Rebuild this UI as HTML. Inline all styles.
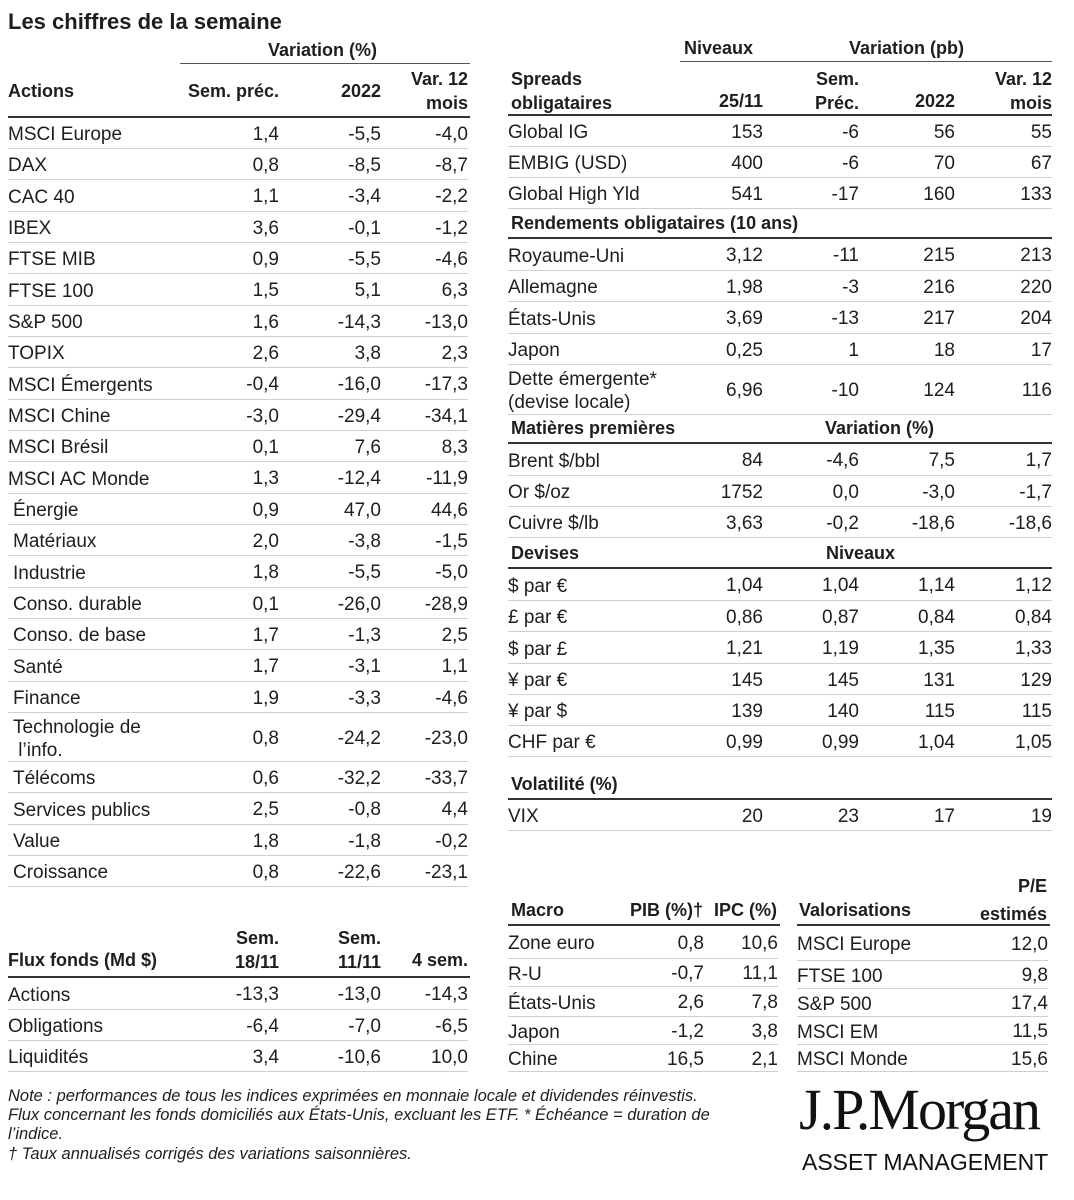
<!DOCTYPE html>
<html><head><meta charset="utf-8"><style>
body{margin:0;width:1074px;height:1200px;background:#fff;position:relative;overflow:hidden;font-family:"Liberation Sans",sans-serif;color:#1e1e1e;font-size:19px}
.a{position:absolute;white-space:nowrap}
.row{position:absolute;display:flex;align-items:center;border-bottom:1px solid #cfcfcf;box-sizing:border-box;padding-top:3px}
.row .l{flex:1;min-width:0;line-height:23px;white-space:nowrap}
.row .c{text-align:right;line-height:22px;flex-shrink:0}
.L{left:8px;width:460px}.L .c1{width:120px}.L .c2{width:102px}.L .c3{width:87px}
.R{left:508px;width:544px}.R .c1{width:110px}.R .c2{width:96px}.R .c3{width:96px}.R .c4{width:97px}
.M{left:508px;width:270px}.M .c1{width:80px}.M .c2{width:74px}
.V{left:797px;width:251px}.V .c1{width:80px}
.b{font-weight:bold;font-size:18px}
.hl{position:absolute;height:2px;background:#333}
.tl{position:absolute;height:1px;background:#555}
.in{padding-left:5px}
.note{position:absolute;left:8px;font-style:italic;font-size:16.5px;white-space:nowrap}
</style></head><body>
<div class="a" style="left:8px;top:9px;font-size:22px;font-weight:bold">Les chiffres de la semaine</div>

<div class="a b" style="left:268px;top:40px">Variation (%)</div>
<div class="tl" style="left:180px;top:63px;width:290px"></div>
<div class="a b" style="left:8px;top:81px">Actions</div>
<div class="a b" style="right:795px;top:81px">Sem. préc.</div>
<div class="a b" style="right:693px;top:81px">2022</div>
<div class="a b" style="right:606px;top:67px;text-align:right;line-height:24px">Var. 12<br>mois</div>
<div class="hl" style="left:8px;top:116px;width:462px"></div>

<div class="row L" style="top:118px;height:31px"><span class="l">MSCI Europe</span><span class="c c1">1,4</span><span class="c c2">-5,5</span><span class="c c3">-4,0</span></div>
<div class="row L" style="top:149px;height:31px"><span class="l">DAX</span><span class="c c1">0,8</span><span class="c c2">-8,5</span><span class="c c3">-8,7</span></div>
<div class="row L" style="top:180px;height:32px"><span class="l">CAC 40</span><span class="c c1">1,1</span><span class="c c2">-3,4</span><span class="c c3">-2,2</span></div>
<div class="row L" style="top:212px;height:31px"><span class="l">IBEX</span><span class="c c1">3,6</span><span class="c c2">-0,1</span><span class="c c3">-1,2</span></div>
<div class="row L" style="top:243px;height:31px"><span class="l">FTSE MIB</span><span class="c c1">0,9</span><span class="c c2">-5,5</span><span class="c c3">-4,6</span></div>
<div class="row L" style="top:274px;height:32px"><span class="l">FTSE 100</span><span class="c c1">1,5</span><span class="c c2">5,1</span><span class="c c3">6,3</span></div>
<div class="row L" style="top:306px;height:31px"><span class="l">S&amp;P 500</span><span class="c c1">1,6</span><span class="c c2">-14,3</span><span class="c c3">-13,0</span></div>
<div class="row L" style="top:337px;height:31px"><span class="l">TOPIX</span><span class="c c1">2,6</span><span class="c c2">3,8</span><span class="c c3">2,3</span></div>
<div class="row L" style="top:368px;height:32px"><span class="l">MSCI Émergents</span><span class="c c1">-0,4</span><span class="c c2">-16,0</span><span class="c c3">-17,3</span></div>
<div class="row L" style="top:400px;height:31px"><span class="l">MSCI Chine</span><span class="c c1">-3,0</span><span class="c c2">-29,4</span><span class="c c3">-34,1</span></div>
<div class="row L" style="top:431px;height:31px"><span class="l">MSCI Brésil</span><span class="c c1">0,1</span><span class="c c2">7,6</span><span class="c c3">8,3</span></div>
<div class="row L" style="top:462px;height:32px"><span class="l">MSCI AC Monde</span><span class="c c1">1,3</span><span class="c c2">-12,4</span><span class="c c3">-11,9</span></div>
<div class="row L" style="top:494px;height:31px"><span class="l in">Énergie</span><span class="c c1">0,9</span><span class="c c2">47,0</span><span class="c c3">44,6</span></div>
<div class="row L" style="top:525px;height:31px"><span class="l in">Matériaux</span><span class="c c1">2,0</span><span class="c c2">-3,8</span><span class="c c3">-1,5</span></div>
<div class="row L" style="top:556px;height:32px"><span class="l in">Industrie</span><span class="c c1">1,8</span><span class="c c2">-5,5</span><span class="c c3">-5,0</span></div>
<div class="row L" style="top:588px;height:31px"><span class="l in">Conso. durable</span><span class="c c1">0,1</span><span class="c c2">-26,0</span><span class="c c3">-28,9</span></div>
<div class="row L" style="top:619px;height:31px"><span class="l in">Conso. de base</span><span class="c c1">1,7</span><span class="c c2">-1,3</span><span class="c c3">2,5</span></div>
<div class="row L" style="top:650px;height:32px"><span class="l in">Santé</span><span class="c c1">1,7</span><span class="c c2">-3,1</span><span class="c c3">1,1</span></div>
<div class="row L" style="top:682px;height:31px"><span class="l in">Finance</span><span class="c c1">1,9</span><span class="c c2">-3,3</span><span class="c c3">-4,6</span></div>
<div class="row L" style="top:713px;height:49px"><span class="l in">Technologie de<br>&nbsp;l’info.</span><span class="c c1">0,8</span><span class="c c2">-24,2</span><span class="c c3">-23,0</span></div>
<div class="row L" style="top:762px;height:31px"><span class="l in">Télécoms</span><span class="c c1">0,6</span><span class="c c2">-32,2</span><span class="c c3">-33,7</span></div>
<div class="row L" style="top:793px;height:32px"><span class="l in">Services publics</span><span class="c c1">2,5</span><span class="c c2">-0,8</span><span class="c c3">4,4</span></div>
<div class="row L" style="top:825px;height:31px"><span class="l in">Value</span><span class="c c1">1,8</span><span class="c c2">-1,8</span><span class="c c3">-0,2</span></div>
<div class="row L" style="top:856px;height:31px"><span class="l in">Croissance</span><span class="c c1">0,8</span><span class="c c2">-22,6</span><span class="c c3">-23,1</span></div>

<div class="a b" style="left:684px;top:38px">Niveaux</div>
<div class="a b" style="left:849px;top:38px">Variation (pb)</div>
<div class="tl" style="left:680px;top:61px;width:372px"></div>
<div class="a b" style="left:511px;top:67px;line-height:24px">Spreads<br>obligataires</div>
<div class="a b" style="right:311px;top:91px">25/11</div>
<div class="a b" style="right:215px;top:67px;text-align:right;line-height:24px">Sem.<br>Préc.</div>
<div class="a b" style="right:119px;top:91px">2022</div>
<div class="a b" style="right:22px;top:67px;text-align:right;line-height:24px">Var. 12<br>mois</div>
<div class="hl" style="left:508px;top:114px;width:544px"></div>
<div class="row R" style="top:116px;height:31px"><span class="l">Global IG</span><span class="c c1">153</span><span class="c c2">-6</span><span class="c c3">56</span><span class="c c4">55</span></div>
<div class="row R" style="top:147px;height:31px"><span class="l">EMBIG (USD)</span><span class="c c1">400</span><span class="c c2">-6</span><span class="c c3">70</span><span class="c c4">67</span></div>
<div class="row R" style="top:178px;height:31px"><span class="l">Global High Yld</span><span class="c c1">541</span><span class="c c2">-17</span><span class="c c3">160</span><span class="c c4">133</span></div>
<div class="a b" style="left:511px;top:213px">Rendements obligataires (10 ans)</div>
<div class="hl" style="left:508px;top:237px;width:544px"></div>
<div class="row R" style="top:239px;height:32px"><span class="l">Royaume-Uni</span><span class="c c1">3,12</span><span class="c c2">-11</span><span class="c c3">215</span><span class="c c4">213</span></div>
<div class="row R" style="top:271px;height:31px"><span class="l">Allemagne</span><span class="c c1">1,98</span><span class="c c2">-3</span><span class="c c3">216</span><span class="c c4">220</span></div>
<div class="row R" style="top:302px;height:32px"><span class="l">États-Unis</span><span class="c c1">3,69</span><span class="c c2">-13</span><span class="c c3">217</span><span class="c c4">204</span></div>
<div class="row R" style="top:334px;height:31px"><span class="l">Japon</span><span class="c c1">0,25</span><span class="c c2">1</span><span class="c c3">18</span><span class="c c4">17</span></div>
<div class="row R" style="top:365px;height:50px"><span class="l">Dette émergente*<br>(devise locale)</span><span class="c c1">6,96</span><span class="c c2">-10</span><span class="c c3">124</span><span class="c c4">116</span></div>
<div class="a b" style="left:511px;top:418px">Matières premières</div>
<div class="a b" style="left:825px;top:418px">Variation (%)</div>
<div class="hl" style="left:508px;top:442px;width:544px"></div>
<div class="row R" style="top:444px;height:32px"><span class="l">Brent $/bbl</span><span class="c c1">84</span><span class="c c2">-4,6</span><span class="c c3">7,5</span><span class="c c4">1,7</span></div>
<div class="row R" style="top:476px;height:31px"><span class="l">Or $/oz</span><span class="c c1">1752</span><span class="c c2">0,0</span><span class="c c3">-3,0</span><span class="c c4">-1,7</span></div>
<div class="row R" style="top:507px;height:31px"><span class="l">Cuivre $/lb</span><span class="c c1">3,63</span><span class="c c2">-0,2</span><span class="c c3">-18,6</span><span class="c c4">-18,6</span></div>
<div class="a b" style="left:511px;top:543px">Devises</div>
<div class="a b" style="left:826px;top:543px">Niveaux</div>
<div class="hl" style="left:508px;top:567px;width:544px"></div>
<div class="row R" style="top:569px;height:32px"><span class="l">$ par €</span><span class="c c1">1,04</span><span class="c c2">1,04</span><span class="c c3">1,14</span><span class="c c4">1,12</span></div>
<div class="row R" style="top:601px;height:31px"><span class="l">£ par €</span><span class="c c1">0,86</span><span class="c c2">0,87</span><span class="c c3">0,84</span><span class="c c4">0,84</span></div>
<div class="row R" style="top:632px;height:32px"><span class="l">$ par £</span><span class="c c1">1,21</span><span class="c c2">1,19</span><span class="c c3">1,35</span><span class="c c4">1,33</span></div>
<div class="row R" style="top:664px;height:31px"><span class="l">¥ par €</span><span class="c c1">145</span><span class="c c2">145</span><span class="c c3">131</span><span class="c c4">129</span></div>
<div class="row R" style="top:695px;height:31px"><span class="l">¥ par $</span><span class="c c1">139</span><span class="c c2">140</span><span class="c c3">115</span><span class="c c4">115</span></div>
<div class="row R" style="top:726px;height:31px"><span class="l">CHF par €</span><span class="c c1">0,99</span><span class="c c2">0,99</span><span class="c c3">1,04</span><span class="c c4">1,05</span></div>
<div class="a b" style="left:511px;top:774px">Volatilité (%)</div>
<div class="hl" style="left:508px;top:798px;width:544px"></div>
<div class="row R" style="top:800px;height:31px"><span class="l">VIX</span><span class="c c1">20</span><span class="c c2">23</span><span class="c c3">17</span><span class="c c4">19</span></div>

<div class="a b" style="left:511px;top:900px">Macro</div>
<div class="a b" style="right:371px;top:900px">PIB (%)†</div>
<div class="a b" style="right:297px;top:900px">IPC (%)</div>
<div class="hl" style="left:508px;top:924px;width:272px"></div>
<div class="row M" style="top:926px;height:33px"><span class="l">Zone euro</span><span class="c c1">0,8</span><span class="c c2">10,6</span></div>
<div class="row M" style="top:959px;height:28px"><span class="l">R-U</span><span class="c c1">-0,7</span><span class="c c2">11,1</span></div>
<div class="row M" style="top:987px;height:30px"><span class="l">États-Unis</span><span class="c c1">2,6</span><span class="c c2">7,8</span></div>
<div class="row M" style="top:1017px;height:28px"><span class="l">Japon</span><span class="c c1">-1,2</span><span class="c c2">3,8</span></div>
<div class="row M" style="top:1045px;height:27px"><span class="l">Chine</span><span class="c c1">16,5</span><span class="c c2">2,1</span></div>

<div class="a b" style="left:799px;top:900px">Valorisations</div>
<div class="a b" style="right:27px;top:872px;text-align:right;line-height:28px">P/E<br>estimés</div>
<div class="hl" style="left:797px;top:924px;width:253px"></div>
<div class="row V" style="top:926px;height:35px"><span class="l">MSCI Europe</span><span class="c c1">12,0</span></div>
<div class="row V" style="top:961px;height:28px"><span class="l">FTSE 100</span><span class="c c1">9,8</span></div>
<div class="row V" style="top:989px;height:28px"><span class="l">S&amp;P 500</span><span class="c c1">17,4</span></div>
<div class="row V" style="top:1017px;height:28px"><span class="l">MSCI EM</span><span class="c c1">11,5</span></div>
<div class="row V" style="top:1045px;height:27px"><span class="l">MSCI Monde</span><span class="c c1">15,6</span></div>

<div class="a b" style="left:8px;top:950px">Flux fonds (Md $)</div>
<div class="a b" style="right:795px;top:926px;text-align:right;line-height:24px">Sem.<br>18/11</div>
<div class="a b" style="right:693px;top:926px;text-align:right;line-height:24px">Sem.<br>11/11</div>
<div class="a b" style="right:606px;top:950px">4 sem.</div>
<div class="hl" style="left:8px;top:976px;width:462px"></div>
<div class="row L" style="top:978px;height:32px"><span class="l">Actions</span><span class="c c1">-13,3</span><span class="c c2">-13,0</span><span class="c c3">-14,3</span></div>
<div class="row L" style="top:1010px;height:31px"><span class="l">Obligations</span><span class="c c1">-6,4</span><span class="c c2">-7,0</span><span class="c c3">-6,5</span></div>
<div class="row L" style="top:1041px;height:31px"><span class="l">Liquidités</span><span class="c c1">3,4</span><span class="c c2">-10,6</span><span class="c c3">10,0</span></div>

<div class="note" style="top:1087px">Note : performances de tous les indices exprimées en monnaie locale et dividendes réinvestis.</div>
<div class="note" style="top:1106px">Flux concernant les fonds domiciliés aux États-Unis, excluant les ETF. * Échéance = duration de</div>
<div class="note" style="top:1125px">l’indice.</div>
<div class="note" style="top:1145px">† Taux annualisés corrigés des variations saisonnières.</div>

<div class="a" style="left:799px;top:1076px;font-family:'Liberation Serif',serif;font-size:58px;letter-spacing:-2px;color:#111">J.P.Morgan</div>
<div class="a" style="left:802px;top:1149px;font-size:23px;letter-spacing:0;color:#111">ASSET MANAGEMENT</div>
</body></html>
